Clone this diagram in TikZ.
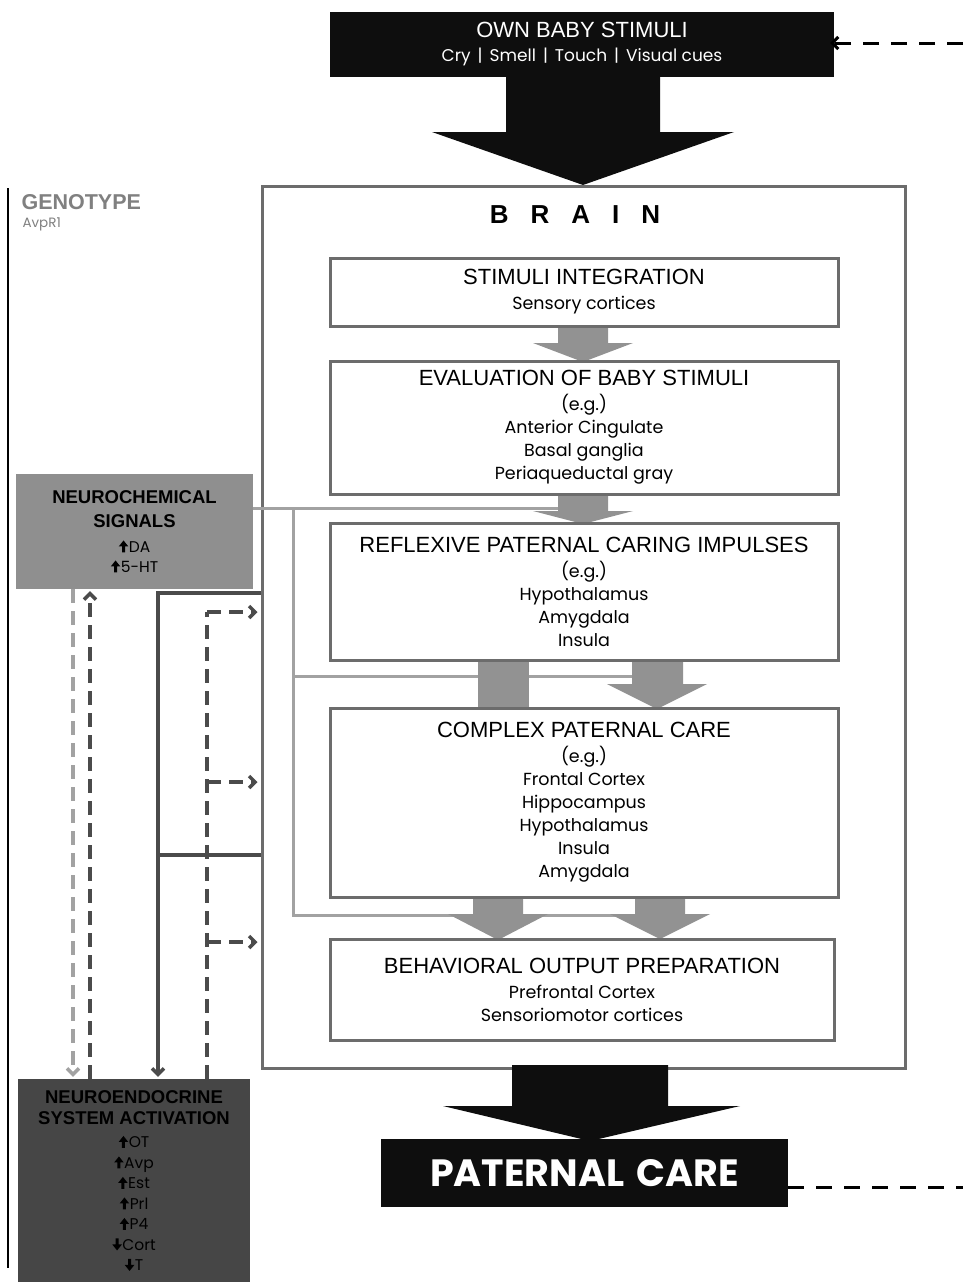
\documentclass[tikz,border=0pt]{standalone}
\usepackage{fontspec}
\setmainfont{Poppins}
\newfontfamily\headfont{Liberation Sans}
\usetikzlibrary{positioning}
\usetikzlibrary{arrows.meta}

\definecolor{nearblack}{HTML}{0E0E0E}
\definecolor{boxline}{HTML}{6C6C6C}
\definecolor{fatgray}{HTML}{929292}
\definecolor{chemgray}{HTML}{8F8F8F}
\definecolor{endogray}{HTML}{464646}
\definecolor{darklink}{HTML}{4B4B4B}
\definecolor{lightlink}{HTML}{A2A2A2}
\definecolor{genogray}{HTML}{808080}

\newcommand{\stagehead}[1]{{\headfont\fontsize{22}{23}\selectfont #1}}
\newcommand{\sidehead}[1]{{\headfont\bfseries\fontsize{18.5}{20}\selectfont #1}}
\newcommand{\arrup}{\tikz[baseline=0pt,x=1pt,y=1pt]\fill[black] (-1.5,0) -- (1.5,0) -- (1.5,6) -- (4.8,6) -- (0,12) -- (-4.8,6) -- (-1.5,6) -- cycle;\hspace{0.5pt}}
\newcommand{\arrdown}{\tikz[baseline=0pt,x=1pt,y=1pt]\fill[black] (-1.5,12) -- (1.5,12) -- (1.5,6) -- (4.8,6) -- (0,0) -- (-4.8,6) -- (-1.5,6) -- cycle;\hspace{0.5pt}}

\tikzset{
 stage/.style={draw=boxline,line width=3pt,fill=white,minimum width=508pt,inner sep=0pt,align=center,font=\fontsize{17.5}{23}\selectfont},
 sidebox/.style={inner sep=0pt,align=center},
 solidlink/.style={draw=darklink,line width=3.5pt},
 dashlink/.style={draw=darklink,line width=3.5pt,dash pattern=on 14pt off 8pt},
 lightdash/.style={draw=lightlink,line width=3.5pt,dash pattern=on 14pt off 8pt},
 lightline/.style={draw=lightlink,line width=3pt},
 loopdash/.style={draw=black,line width=3pt,dash pattern=on 16pt off 12pt},
 barb/.style={-{Straight Barb[length=6pt,width=12pt]}}
}

\begin{document}
\begin{tikzpicture}[x=1pt,y=-1pt]
 \fill[white] (0,0) rectangle (963,1282);
 \useasboundingbox (0,0) rectangle (963,1282);

 \draw[black,line width=1.5pt] (8,188) -- (8,1268);
 \node[anchor=west,text=genogray,font=\headfont\bfseries\fontsize{21.5}{23}\selectfont] (geno) at (18,202) {GENOTYPE};
 \node[anchor=west,text=genogray,font=\fontsize{13.5}{15}\selectfont] (avpr) at (19,224) {AvpR1};

 \node[draw=boxline,line width=3pt,minimum width=643pt,minimum height=882pt,inner sep=0pt] (brain) at (583.5,627) {};
 \node[font=\headfont\bfseries\fontsize{26}{28}\selectfont] (braintitle) at (575,215) {B\hspace{22pt}R\hspace{22pt}A\hspace{22pt}I\hspace{22pt}N};

 \node[sidebox,fill=chemgray,minimum width=237pt,minimum height=115pt,font=\fontsize{15.5}{20}\selectfont] (chem) at (134.5,531.5) {\sidehead{NEUROCHEMICAL}\\[4pt]\sidehead{SIGNALS}\\[5pt]\arrup DA\\\arrup 5-HT};
 \node[sidebox,fill=endogray,minimum width=232pt,minimum height=204pt,font=\fontsize{15.5}{20.5}\selectfont] (endo) at (134,1181) {\sidehead{NEUROENDOCRINE}\\\sidehead{SYSTEM ACTIVATION}\\[3pt]\arrup OT\\\arrup Avp\\\arrup Est\\\arrup Prl\\\arrup P4\\\arrdown Cort\\\arrdown T};

 \draw[lightline] (chem.east |- 0,508) -- (558,508);
 \draw[lightline] (293,508) -- (293,915) -- (620,915);
 \draw[lightline] (293,676) -- (632,676);

 \coordinate (solidtop) at (158,593);
 \draw[solidlink,barb,shorten >=2pt] (brain.west |- solidtop) -- (solidtop) -- (solidtop |- endo.north);
 \draw[solidlink] (brain.west |- 0,855) -- (158,855);

 \coordinate (dashtop) at (207,612);
 \draw[dashlink] (dashtop |- endo.north) -- (dashtop);
 \draw[dashlink,barb,shorten >=3pt] (dashtop) -- (brain.west |- dashtop);
 \draw[dashlink,barb,shorten >=3pt] (207,782) -- (brain.west |- 0,782);
 \draw[dashlink,barb,shorten >=3pt] (207,942) -- (brain.west |- 0,942);

 \coordinate (upx) at (90,0);
 \coordinate (downx) at (73,0);
 \draw[dashlink,barb,shorten >=2pt] (upx |- endo.north) -- (upx |- chem.south);
 \draw[lightdash,barb,shorten >=2pt] (downx |- chem.south) -- (downx |- endo.north);

 \fill[fatgray] (558,320) -- (608,320) -- (608,343) -- (633,343) -- (583,362) -- (533,343) -- (558,343) -- cycle;
 \fill[fatgray] (558,490) -- (608,490) -- (608,511) -- (633,511) -- (583,524) -- (533,511) -- (558,511) -- cycle;
 \fill[fatgray] (478,655) rectangle (529,712);
 \fill[fatgray] (632,655) -- (683,655) -- (683,684) -- (707,684) -- (657,709) -- (607,684) -- (632,684) -- cycle;
 \fill[fatgray] (473,892) -- (523,892) -- (523,914) -- (548,914) -- (498,940) -- (448,914) -- (473,914) -- cycle;
 \fill[fatgray] (635,892) -- (685,892) -- (685,914) -- (710,914) -- (660,939) -- (610,914) -- (635,914) -- cycle;

 \node[stage,minimum height=68pt] (integ) at (584,292) {\stagehead{STIMULI INTEGRATION}\\[2pt]Sensory cortices};
 \node[stage,minimum height=133pt] (evalu) at (584,427.5) {\stagehead{EVALUATION OF BABY STIMULI}\\[2pt](e.g.)\\Anterior Cingulate\\Basal ganglia\\Periaqueductal gray};
 \node[stage,minimum height=137pt] (reflex) at (584,591.5) {\stagehead{REFLEXIVE PATERNAL CARING IMPULSES}\\[2pt](e.g.)\\Hypothalamus\\Amygdala\\Insula};
 \node[stage,minimum height=189pt] (cplx) at (584,802.5) {\stagehead{COMPLEX PATERNAL CARE}\\[2pt](e.g.)\\Frontal Cortex\\Hippocampus\\Hypothalamus\\Insula\\Amygdala};
 \node[stage,minimum width=504pt,minimum height=101pt] (behav) at (582,989.5) {\stagehead{BEHAVIORAL OUTPUT PREPARATION}\\[2pt]Prefrontal Cortex\\Sensoriomotor cortices};

 \fill[nearblack] (506,70) -- (660,70) -- (660,132) -- (734,132) -- (583,185) -- (432,132) -- (506,132) -- cycle;
 \fill[nearblack] (512,1065) -- (668,1065) -- (668,1106) -- (740,1106) -- (590,1141) -- (443,1106) -- (512,1106) -- cycle;

 \node[fill=nearblack,text=white,minimum width=504pt,minimum height=65pt,inner sep=0pt,align=center,font=\fontsize{17}{24}\selectfont] (babystim) at (582,44.5) {\stagehead{OWN BABY STIMULI}\\Cry\hspace{7pt}|\hspace{7pt}Smell\hspace{7pt}|\hspace{7pt}Touch\hspace{7pt}|\hspace{7pt}Visual cues};
 \node[fill=nearblack,text=white,minimum width=407pt,minimum height=68pt,inner sep=0pt,font=\bfseries\fontsize{38}{42}\selectfont] (care) at (584.5,1173) {PATERNAL\hspace{12pt}CARE};

 \coordinate (loopin) at (963,43);
 \coordinate (loopout) at (963,1187);
 \draw[loopdash,barb,shorten >=-4pt] (loopin) -- (loopin -| babystim.east);
 \draw[loopdash] (care.east |- loopout) -- (loopout);
\end{tikzpicture}
\end{document}
